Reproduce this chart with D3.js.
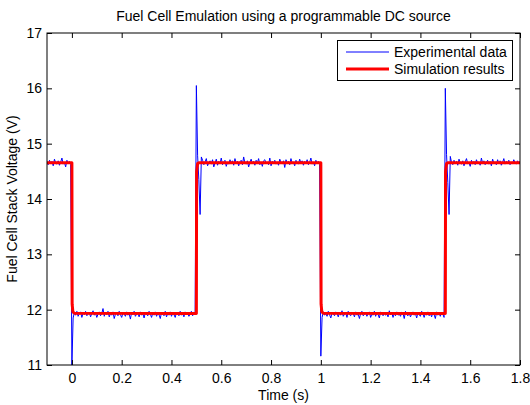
<!DOCTYPE html>
<html><head><meta charset="utf-8">
<script src="https://cdn.jsdelivr.net/npm/d3@7"></script>
<style>
body{margin:0;background:#fff;}
svg{display:block;font-family:"Liberation Sans",Arial,Helvetica,sans-serif;}
</style></head>
<body><svg id="c" width="530" height="405"></svg>
<script>
const title = "Fuel Cell Emulation using a programmable DC source";
const xLabel = "Time (s)";
const yLabel = "Fuel Cell Stack Voltage (V)";
const seriesNames = ["Experimental data", "Simulation results"];
const xTicks = [0, 0.2, 0.4, 0.6, 0.8, 1, 1.2, 1.4, 1.6, 1.8];
const yTicks = [11, 12, 13, 14, 15, 16, 17];
const xDomain = [-0.1, 1.8];
const yDomain = [11, 17];

// Experimental data, sampled every 5 ms from t = -0.1 s
const expStart = -0.1, expStep = 0.005;
const expHigh1 = [14.66,14.62,14.70,14.64,14.68,14.60,14.72,14.65,14.63,14.69,14.61,14.67,14.74,14.63,14.66,14.58,14.70,14.64,14.68,14.62];
const expDrop1 = [11.0];
const expLow1 = [11.85,11.95,11.90,11.97,11.88,11.93,11.96,11.86,11.94,11.91,
11.97,11.89,11.92,11.95,11.87,11.93,11.98,11.90,11.94,11.86,
11.92,11.96,11.89,11.93,12.02,11.88,11.95,11.91,11.97,11.87,
11.93,11.90,11.96,11.84,11.92,11.95,11.89,11.97,11.91,11.86,
11.94,11.92,11.88,11.96,11.90,11.93,11.83,11.95,11.91,11.97,
11.88,11.92,11.94,11.87,11.96,11.90,11.93,11.85,11.95,11.91,
11.89,11.97,11.92,11.86,11.94,11.90,11.96,11.88,11.93,11.91,
11.84,11.95,11.92,11.89,11.97,11.87,11.93,11.90,11.96,11.88,
11.94,11.91,11.86,11.95,11.92,11.89,11.97,11.90,11.93,11.87,
11.96,11.91,11.94,11.88,11.92,11.97,11.89,11.95,11.93];
const expRise1 = [16.05,14.78,14.35,13.72,14.76];
const expHigh2 = [14.70,14.62,14.67,14.73,14.60,14.66,14.69,14.63,14.71,14.58,
14.65,14.72,14.61,14.68,14.64,14.74,14.62,14.67,14.70,14.59,
14.66,14.63,14.71,14.65,14.69,14.61,14.73,14.64,14.68,14.60,
14.67,14.70,14.62,14.76,14.65,14.63,14.69,14.58,14.66,14.72,
14.64,14.68,14.61,14.70,14.65,14.73,14.62,14.67,14.59,14.69,
14.71,14.64,14.66,14.62,14.74,14.60,14.68,14.65,14.70,14.63,
14.67,14.61,14.72,14.66,14.64,14.69,14.57,14.71,14.65,14.68,
14.62,14.73,14.64,14.67,14.60,14.70,14.66,14.63,14.72,14.65,
14.69,14.61,14.68,14.64,14.71,14.62,14.66,14.74,14.63,14.67,
14.60,14.70,14.65,14.68,14.62];
const expDrop2 = [11.16];
const expLow2 = [11.86,11.96,11.90,11.93,11.88,11.97,11.91,11.85,11.94,11.92,
11.89,11.96,11.93,11.87,11.95,11.90,11.98,11.88,11.92,11.94,
11.86,11.97,11.91,11.89,11.95,11.93,11.87,11.96,11.90,11.92,
11.84,11.94,11.97,11.89,11.91,11.95,11.88,11.93,11.96,11.86,
11.92,11.90,11.97,11.88,11.94,11.91,11.85,11.96,11.93,11.89,
11.95,11.90,11.92,11.87,11.98,11.91,11.94,11.86,11.93,11.89,
11.96,11.90,11.92,11.88,11.95,11.93,11.84,11.97,11.91,11.89,
11.94,11.87,11.92,11.96,11.90,11.93,11.85,11.95,11.91,11.88,
11.97,11.92,11.86,11.94,11.90,11.96,11.89,11.93,11.87,11.95,
11.91,11.84,11.96,11.90,11.93,11.88,11.95,11.92,11.86];
const expRise2 = [16.0,14.8,14.3,13.72,14.77];
const expHigh3 = [14.66,14.62,14.70,14.64,14.68,14.61,14.72,14.65,14.63,14.69,
14.60,14.67,14.73,14.64,14.66,14.59,14.70,14.63,14.68,14.62,
14.71,14.65,14.67,14.61,14.74,14.64,14.69,14.62,14.66,14.70,
14.63,14.68,14.60,14.72,14.65,14.67,14.62,14.71,14.64,14.69,
14.61,14.66,14.73,14.63,14.68,14.65,14.70,14.62,14.67,14.64,
14.71,14.66,14.63,14.69,14.65,14.67];

// Simulation results
const simTime = [-0.1, 0, 0.001, 0.004, 0.01, 0.5, 0.501, 0.505, 0.51, 1.0, 1.001, 1.004, 1.01, 1.5, 1.501, 1.505, 1.51, 1.8];
const simVolt = [14.655, 14.655, 12.1, 11.96, 11.935, 11.93, 14.5, 14.64, 14.655, 14.655, 12.1, 11.96, 11.935, 11.93, 14.5, 14.64, 14.655, 14.655];

const expVolt = [].concat(expHigh1, expDrop1, expLow1, expRise1, expHigh2, expDrop2, expLow2, expRise2, expHigh3);
const expData = expVolt.map((v, i) => [expStart + i * expStep, v]);
const simData = simTime.map((t, i) => [t, simVolt[i]]);

const svg = d3.select("#c");
const L = 47, R = 520, T = 33, B = 365;
const x = d3.scaleLinear().domain(xDomain).range([L, R]);
const y = d3.scaleLinear().domain(yDomain).range([B, T]);

svg.append("defs").append("clipPath").attr("id", "clip")
  .append("rect").attr("x", L).attr("y", T).attr("width", R - L).attr("height", B - T);

const line = d3.line().x(d => x(d[0])).y(d => y(d[1]));
const plot = svg.append("g").attr("clip-path", "url(#clip)");
plot.append("path").datum(expData).attr("d", line)
  .attr("fill", "none").attr("stroke", "#0000ff").attr("stroke-width", 1);
plot.append("path").datum(simData).attr("d", line)
  .attr("fill", "none").attr("stroke", "#ff0000").attr("stroke-width", 3).attr("stroke-linejoin", "round");

const fs = 14;
const tickLen = 5;
const fmtX = d => d3.format("")(d);
// bottom axis
const xb = svg.append("g").attr("transform", `translate(0,${B})`)
  .call(d3.axisBottom(x).tickValues(xTicks).tickFormat(fmtX).tickSizeInner(-tickLen).tickSizeOuter(0).tickPadding(8));
// top axis
const xt = svg.append("g").attr("transform", `translate(0,${T})`)
  .call(d3.axisTop(x).tickValues(xTicks).tickFormat("").tickSizeInner(-tickLen).tickSizeOuter(0));
// left axis
const yl = svg.append("g").attr("transform", `translate(${L},0)`)
  .call(d3.axisLeft(y).tickValues(yTicks).tickFormat(d3.format("d")).tickSizeInner(-tickLen).tickSizeOuter(0).tickPadding(5));
// right axis
const yr = svg.append("g").attr("transform", `translate(${R},0)`)
  .call(d3.axisRight(y).tickValues(yTicks).tickFormat("").tickSizeInner(-tickLen).tickSizeOuter(0));
[xb, xt, yl, yr].forEach(g => {
  g.select(".domain").remove();
  g.selectAll("line").attr("stroke", "#000");
  g.selectAll("text").attr("fill", "#000").style("font-size", fs + "px").style("font-family", "'Liberation Sans',Arial,sans-serif");
});
svg.append("rect").attr("x", L).attr("y", T).attr("width", R - L).attr("height", B - T)
  .attr("fill", "none").attr("stroke", "#000").attr("stroke-width", 1);

svg.append("text").attr("x", (L + R) / 2).attr("y", 21).attr("text-anchor", "middle")
  .style("font-size", fs + "px").text(title);
svg.append("text").attr("x", (L + R) / 2).attr("y", 400).attr("text-anchor", "middle")
  .style("font-size", fs + "px").text(xLabel);
svg.append("text").attr("transform", `translate(17,${(T + B) / 2}) rotate(-90)`).attr("text-anchor", "middle")
  .style("font-size", fs + "px").text(yLabel);

// legend
const lg = svg.append("g");
lg.append("rect").attr("x", 337.5).attr("y", 40.5).attr("width", 175).attr("height", 40)
  .attr("fill", "#fff").attr("stroke", "#000").attr("stroke-width", 1);
const rows = [{name: seriesNames[0], color: "#0000ff", w: 1, yy: 52}, {name: seriesNames[1], color: "#ff0000", w: 3, yy: 69}];
rows.forEach(r => {
  lg.append("line").attr("x1", 346).attr("x2", 389).attr("y1", r.yy).attr("y2", r.yy)
    .attr("stroke", r.color).attr("stroke-width", r.w);
  lg.append("text").attr("x", 394).attr("y", r.yy + 5).style("font-size", fs + "px").text(r.name);
});
</script></body></html>
